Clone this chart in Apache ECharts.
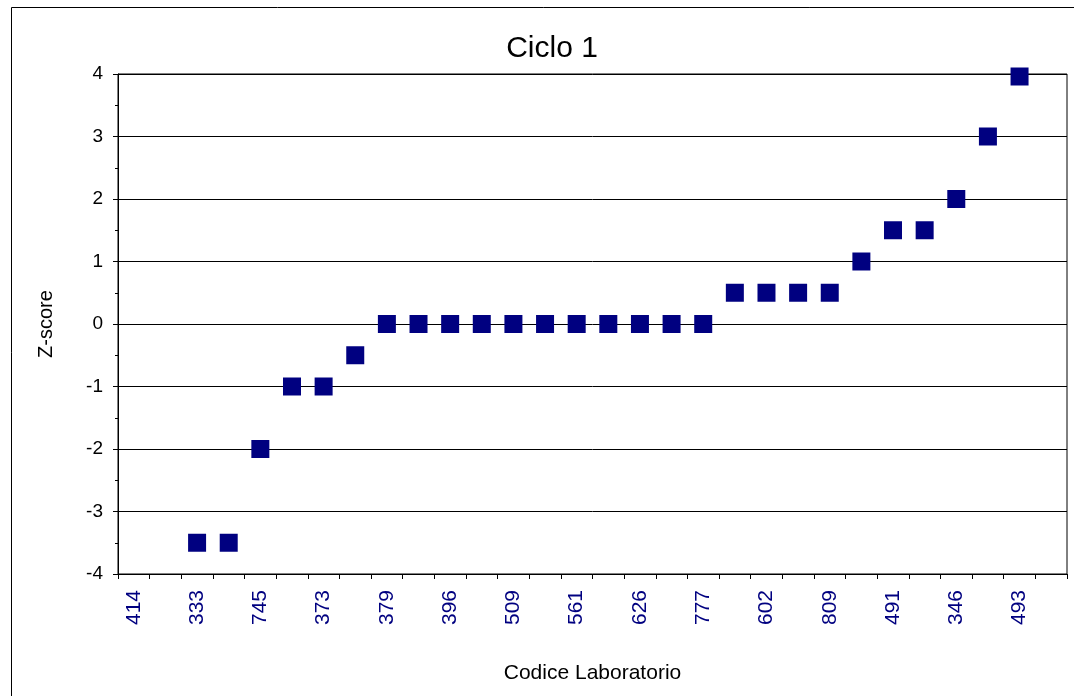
<!DOCTYPE html>
<html>
<head>
<meta charset="utf-8">
<title>Ciclo 1</title>
<script src="https://cdn.jsdelivr.net/npm/echarts@6/dist/echarts.min.js"></script>
<style>
  html, body { margin: 0; padding: 0; background: #fff; }
  #chart { width: 1074px; height: 696px; }
</style>
</head>
<body>
<div id="chart"></div>
<script>
// lab codes, only every other one is printed on the axis
const labCodes = [
  '414', '', '333', '', '745', '', '373', '', '379', '', '396', '', '509', '', '561',
  '', '626', '', '777', '', '602', '', '809', '', '491', '', '346', '', '493', ''
]
// z-scores per lab (null = not shown)
const zScores = [
  null, null, -3.5, -3.5, -2, -1, -1, -0.5, 0, 0, 0, 0, 0, 0, 0,
  0, 0, 0, 0, 0.5, 0.5, 0.5, 0.5, 1, 1.5, 1.5, 2, 3, 3.96, null
]

const chart = echarts.init(document.getElementById('chart'))

const font = 'Liberation Sans, Arial, sans-serif'

const option = {
  animation: false,
  backgroundColor: '#fff',
  title: {
    text: 'Ciclo 1',
    left: 547,
    top: 29,
    textAlign: 'center',
    textStyle: {
      fontFamily: font,
      fontSize: 30,
      fontWeight: 'normal',
      color: '#000'
    }
  },
  graphic: [
    {
      type: 'rect',
      shape: { x: 11.5, y: 7.5, width: 1100, height: 720 },
      style: { fill: 'none', stroke: '#000', lineWidth: 1 },
      silent: true
    }
  ],
  grid: {
    left: 118,
    right: 7,
    top: 74,
    bottom: 122,
    show: true,
    borderColor: '#000',
    borderWidth: 1,
    backgroundColor: '#fff'
  },
  xAxis: {
    type: 'category',
    data: labCodes,
    boundaryGap: true,
    name: 'Codice Laboratorio',
    nameLocation: 'middle',
    nameGap: 89,
    nameTextStyle: { fontFamily: font, fontSize: 21, color: '#000' },
    axisLine: { onZero: false, lineStyle: { color: '#000', width: 1 } },
    axisTick: { show: true, interval: 0, length: 5, lineStyle: { color: '#000' } },
    axisLabel: {
      interval: 1,
      rotate: 90,
      margin: 16,
      fontFamily: font,
      fontSize: 21,
      color: '#000080'
    },
    splitLine: { show: false }
  },
  yAxis: {
    type: 'value',
    min: -4,
    max: 4,
    interval: 1,
    name: 'Z-score',
    nameLocation: 'middle',
    nameGap: 62,
    nameTextStyle: { fontFamily: font, fontSize: 20, color: '#000' },
    axisLine: { show: true, lineStyle: { color: '#000', width: 1 } },
    axisTick: { show: true, length: 5, lineStyle: { color: '#000' } },
    minorTick: { show: true, splitNumber: 2, length: 3, lineStyle: { color: '#000' } },
    axisLabel: {
      margin: 15,
      fontFamily: font,
      fontSize: 19,
      color: '#000'
    },
    splitLine: { show: true, lineStyle: { color: '#000', width: 1 } }
  },
  series: [
    {
      name: 'Z-score',
      type: 'scatter',
      data: zScores,
      symbol: 'rect',
      symbolSize: 18,
      itemStyle: { color: '#000080', opacity: 1 }
    }
  ]
}

chart.setOption(option)
</script>
</body>
</html>
